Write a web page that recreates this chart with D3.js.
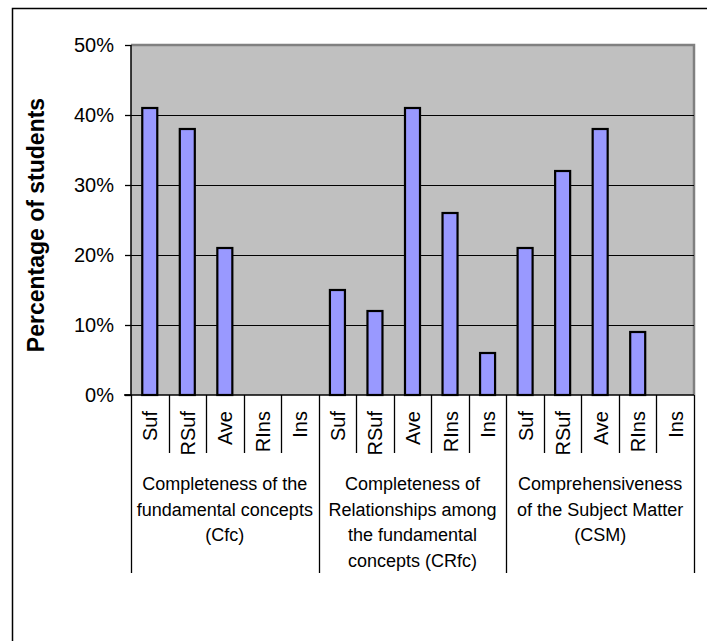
<!DOCTYPE html>
<html>
<head>
<meta charset="utf-8">
<script src="https://cdn.jsdelivr.net/npm/d3@7"></script>
<style>
  html, body { margin: 0; padding: 0; background: #fff; }
  svg { display: block; font-family: "Liberation Sans", Arial, sans-serif; }
</style>
</head>
<body>
<svg id="chart" width="707" height="641"></svg>
<script>
// Rating levels shown under every criterion
const levels = ["Suf", "RSuf", "Ave", "RIns", "Ins"];

// Criteria (group labels, one entry per line)
const groups = [
  ["Completeness of the", "fundamental concepts", "(Cfc)"],
  ["Completeness of", "Relationships among", "the fundamental", "concepts (CRfc)"],
  ["Comprehensiveness", "of the Subject Matter", "(CSM)"]
];

// Share of students per level, in percent
const cfcValues  = [41, 38, 21, 0, 0];
const crfcValues = [15, 12, 41, 26, 6];
const csmValues  = [21, 32, 38, 9, 0];

const yTicks = [0, 10, 20, 30, 40, 50];
const yTitle = "Percentage of students";

const seriesByGroup = [cfcValues, crfcValues, csmValues];
const rows = [];
seriesByGroup.forEach((vals, g) => {
  vals.forEach((v, i) => rows.push({ key: g * levels.length + i, group: g, level: levels[i], value: v }));
});

const svg = d3.select("#chart");
const plot = { left: 131, right: 694, top: 45, bottom: 395 };

// outer chart frame
svg.append("rect")
  .attr("x", 12.5).attr("y", 8.5)
  .attr("width", 720).attr("height", 660)
  .attr("fill", "#fff").attr("stroke", "#000").attr("stroke-width", 1.5);

const x = d3.scaleBand()
  .domain(rows.map(d => d.key))
  .range([plot.left, plot.right])
  .paddingInner(0).paddingOuter(0);

const y = d3.scaleLinear().domain([0, 50]).range([plot.bottom, plot.top]);

// plot background
svg.append("rect")
  .attr("x", plot.left).attr("y", plot.top)
  .attr("width", plot.right - plot.left).attr("height", plot.bottom - plot.top)
  .attr("fill", "#c0c0c0");

// top and right plot border
svg.append("path")
  .attr("d", `M${plot.left},${plot.top}H${plot.right}V${plot.bottom}`)
  .attr("fill", "none").attr("stroke", "#808080").attr("stroke-width", 2.5);

// horizontal gridlines
svg.append("g")
  .selectAll("line")
  .data(yTicks.filter(t => t > 0 && t < 50))
  .join("line")
  .attr("x1", plot.left).attr("x2", plot.right)
  .attr("y1", d => Math.round(y(d)) + 0.5).attr("y2", d => Math.round(y(d)) + 0.5)
  .attr("stroke", "#000").attr("stroke-width", 1);

// bars
const barW = x.bandwidth() * 0.40;
svg.append("g")
  .selectAll("rect")
  .data(rows.filter(d => d.value > 0))
  .join("rect")
  .attr("x", d => x(d.key) + (x.bandwidth() - barW) / 2)
  .attr("y", d => y(d.value))
  .attr("width", barW)
  .attr("height", d => y(0) - y(d.value))
  .attr("fill", "#9999ff")
  .attr("stroke", "#000")
  .attr("stroke-width", 2.2);

// y axis
const yAxis = d3.axisLeft(y)
  .tickValues(yTicks)
  .tickFormat(d => d + "%")
  .tickSize(6)
  .tickPadding(11);
const yg = svg.append("g")
  .attr("transform", `translate(${plot.left},0)`)
  .call(yAxis);
yg.select(".domain").attr("stroke", "#000").attr("stroke-width", 1.5).attr("d", `M-6,${plot.bottom}H0V${plot.top}`);
yg.selectAll(".tick line").attr("stroke", "#000").attr("stroke-width", 1.3);
yg.selectAll(".tick text")
  .attr("font-size", 20).attr("fill", "#000")
  .attr("font-family", "'Liberation Sans', Arial, sans-serif");

// x axis line
svg.append("line")
  .attr("x1", plot.left - 7).attr("x2", plot.right)
  .attr("y1", plot.bottom).attr("y2", plot.bottom)
  .attr("stroke", "#000").attr("stroke-width", 1.5);

// y axis title
svg.append("text")
  .attr("transform", `translate(44,${(plot.top + plot.bottom) / 2 + 5}) rotate(-90)`)
  .attr("text-anchor", "middle")
  .attr("font-size", 23).attr("font-weight", "bold")
  .text(yTitle);

// category separators (short) and group separators (long)
const catTicks = d3.range(rows.length + 1);
svg.append("g")
  .selectAll("line")
  .data(catTicks)
  .join("line")
  .attr("x1", i => Math.round(i < rows.length ? x(i) : plot.right) + 0.5)
  .attr("x2", i => Math.round(i < rows.length ? x(i) : plot.right) + 0.5)
  .attr("y1", plot.bottom)
  .attr("y2", i => (i % levels.length === 0) ? 573 : 453)
  .attr("stroke", "#000").attr("stroke-width", 1.3);

// level labels, rotated
svg.append("g")
  .selectAll("text")
  .data(rows)
  .join("text")
  .attr("transform", d => `translate(${x(d.key) + x.bandwidth() / 2 + 7.5},411) rotate(-90)`)
  .attr("text-anchor", "end")
  .attr("font-size", 20)
  .text(d => d.level);

// group labels
groups.forEach((lines, g) => {
  const x0 = x(g * levels.length);
  const x1 = g === groups.length - 1 ? plot.right : x((g + 1) * levels.length);
  const t = svg.append("text")
    .attr("text-anchor", "middle")
    .attr("font-size", 18);
  lines.forEach((ln, i) => {
    t.append("tspan")
      .attr("x", (x0 + x1) / 2)
      .attr("y", 490 + i * 25.5)
      .text(ln);
  });
});
</script>
</body>
</html>
